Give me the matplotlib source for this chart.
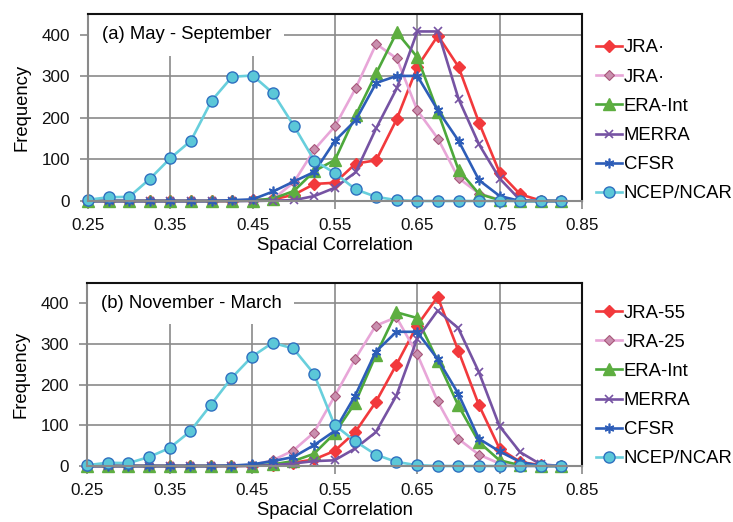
import matplotlib
matplotlib.use("Agg")
import matplotlib.pyplot as plt
from matplotlib.ticker import FixedLocator

plt.rcParams['font.family'] = ['Liberation Sans', 'DejaVu Sans']

# ---------------- data ----------------
corr = [0.25, 0.275, 0.30, 0.325, 0.35, 0.375, 0.40, 0.425, 0.45, 0.475, 0.50, 0.525,
        0.55, 0.575, 0.60, 0.625, 0.65, 0.675, 0.70, 0.725, 0.75, 0.775, 0.80, 0.825]

# (a) May - September
a_jra55 = [0, 0, 0, 0, 0, 0, 0, 0, 2, 4, 15, 41, 44, 90, 98, 197, 323, 398, 323, 188, 68, 16, 1, 0]
a_jra25 = [0, 0, 0, 0, 0, 0, 0, 0, 2, 5, 45, 124, 180, 271, 378, 343, 218, 150, 55, 18, 3, 0, 0, 0]
a_era = [0, 0, 0, 0, 0, 0, 0, 0, 1, 6, 24, 72, 99, 206, 307, 406, 346, 214, 75, 17, 2, 0, 0, 0]
a_merra = [0, 0, 0, 0, 0, 0, 0, 0, 0, 1, 2, 12, 32, 69, 175, 271, 408, 408, 246, 136, 54, 2, 0, 0]
a_cfsr = [0, 0, 0, 0, 0, 0, 0, 2, 4, 23, 47, 70, 145, 194, 284, 301, 301, 218, 145, 50, 12, 0, 0, 0]
a_ncep = [3, 9, 10, 53, 103, 145, 241, 299, 302, 259, 181, 97, 67, 28, 10, 2, 0, 0, 0, 0, 0, 0, 0, 0]

# (b) November - March
b_jra55 = [0, 0, 0, 0, 0, 0, 0, 0, 1, 2, 8, 16, 37, 83, 157, 249, 345, 416, 284, 150, 43, 10, 2, 0]
b_jra25 = [0, 0, 0, 0, 0, 0, 0, 0, 2, 14, 38, 82, 171, 263, 345, 366, 276, 159, 67, 28, 6, 0, 0, 0]
b_era = [0, 0, 0, 0, 0, 0, 0, 0, 1, 4, 12, 30, 80, 155, 272, 378, 364, 259, 149, 59, 14, 2, 0, 0]
b_merra = [0, 0, 0, 0, 0, 0, 0, 0, 0, 2, 6, 12, 14, 43, 83, 173, 312, 382, 339, 231, 98, 34, 4, 0]
b_cfsr = [0, 0, 0, 0, 0, 0, 0, 1, 4, 12, 22, 51, 86, 173, 281, 330, 330, 263, 178, 67, 36, 10, 0, 0]
b_ncep = [2, 8, 7, 22, 44, 85, 150, 216, 269, 303, 289, 227, 101, 61, 28, 10, 2, 0, 0, 0, 0, 0, 0, 0]

a_labels = ['JRA\u00b7', 'JRA\u00b7', 'ERA-Int', 'MERRA', 'CFSR', 'NCEP/NCAR']
b_labels = ['JRA-55', 'JRA-25', 'ERA-Int', 'MERRA', 'CFSR', 'NCEP/NCAR']
titles = ['(a) May - September', '(b) November - March']
xticks = [0.25, 0.35, 0.45, 0.55, 0.65, 0.75, 0.85]
yticks = [0, 100, 200, 300, 400]

styles = [
    dict(color='#F2393C', marker='D', ms=6.5, mfc='#F2393C', mec='#F2393C', lw=1.9),
    dict(color='#E8A6D8', marker='D', ms=5.5, mfc='#C98FAE', mec='#A8577A', mew=0.8, lw=1.9),
    dict(color='#4DA83B', marker='^', ms=8.5, mfc='#5EAE40', mec='#5EAE40', lw=1.9),
    dict(color='#7653A3', marker='x', ms=5.5, mew=1.2, lw=1.9),
    dict(color='#2D5DB8', marker=(6, 2, 0), ms=7, mew=1.2, lw=1.9),
    dict(color='#68CFDC', marker='o', ms=8, mfc='#5BC7D8', mec='#2F70C0', mew=1.0, lw=1.9),
]

fig = plt.figure(figsize=(7.33, 5.22), dpi=100)
ax1 = fig.add_axes([88 / 733, 1 - 201 / 522, 494 / 733, 187 / 522])
ax2 = fig.add_axes([87 / 733, 1 - 466 / 522, 495 / 733, 183 / 522])

panels = [
    (ax1, [a_jra55, a_jra25, a_era, a_merra, a_cfsr, a_ncep], a_labels, titles[0], 47),
    (ax2, [b_jra55, b_jra25, b_era, b_merra, b_cfsr, b_ncep], b_labels, titles[1], 312),
]

grid_col = '#8A8A8A'
for ax, series, labels, title, leg_top in panels:
    handles = []
    for vals, lab, st in zip(series, labels, styles):
        h, = ax.plot(corr, vals, label=lab, clip_on=False, **st)
        handles.append(h)
    ax.set_xlim(0.25, 0.85)
    ax.set_ylim(0, 450)
    ax.xaxis.set_major_locator(FixedLocator(xticks))
    ax.yaxis.set_major_locator(FixedLocator(yticks))
    ax.set_xticklabels([f'{t:.2f}' for t in xticks])
    ax.set_axisbelow(True)
    ax.grid(True, color=grid_col, lw=1.2)
    ax.tick_params(axis='both', direction='out', length=6, width=1.2, color=grid_col,
                   labelsize=12.3, labelcolor='#111111')
    ax.tick_params(axis='x', pad=6)
    ax.tick_params(axis='y', pad=7)
    for s in ['left', 'bottom']:
        ax.spines[s].set_color(grid_col)
        ax.spines[s].set_linewidth(1.5)
    for s in ['top', 'right']:
        ax.spines[s].set_color('#111111')
        ax.spines[s].set_linewidth(1.5)
    ax.set_ylabel('Frequency', fontsize=13.3, labelpad=8)
    ax.set_xlabel('Spacial Correlation', fontsize=13.3, labelpad=3)
    ax.text(0.267, 400, title, fontsize=13.3, va='center', ha='left', zorder=1.5,
            bbox=dict(facecolor='white', edgecolor='none', pad=9))
    fig.legend(handles=handles, loc='upper left',
               bbox_to_anchor=(596 / 733, 1 - (leg_top - 7.5) / 522),
               frameon=False, fontsize=13.3, handlelength=1.4, handletextpad=0.1,
               labelspacing=0.66, borderpad=0, borderaxespad=0)

fig.savefig('out.png', dpi=100)
